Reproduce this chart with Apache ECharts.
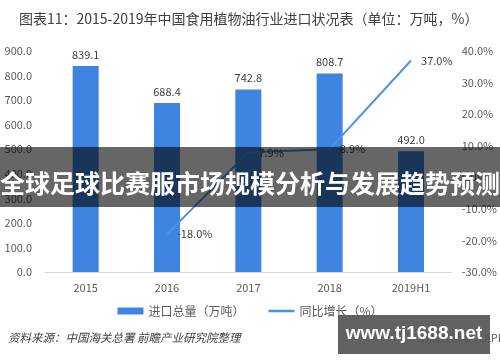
<!DOCTYPE html>
<html><head><meta charset="utf-8">
<script src="https://cdn.jsdelivr.net/npm/echarts@6/dist/echarts.min.js"></script>
<style>html,body{margin:0;padding:0;background:#fff}#c{width:500px;height:362px}</style>
</head><body><div id="c"></div>
<script>
const categories = ['2015','2016','2017','2018','2019H1'];
const importVolume = [839.1, 688.4, 742.8, 808.7, 492.0];
const yoyGrowth = [null, -18.0, 7.9, 8.9, 37.0];
const leftTicks = {min: 0, max: 900, interval: 100};
const rightTicks = {min: -30, max: 40, interval: 10};
const titleText = '图表11：2015-2019年中国食用植物油行业进口状况表（单位：万吨，%）';
const sourceText = '资料来源：中国海关总署 前瞻产业研究院整理';
const bannerText = '全球足球比赛服市场规模分析与发展趋势预测';

const font = '"Noto Sans CJK SC","Noto Sans",sans-serif';
const chart = echarts.init(document.getElementById('c'));
chart.setOption({
  animation: false,
  textStyle: {fontFamily: font},
  title: {text: titleText, left: 14, top: 7, textStyle: {fontSize: 14, fontWeight: 'normal', color: '#404040', fontFamily: font}},
  grid: {left: 45, right: 48, top: 51, bottom: 90},
  legend: {
    bottom: 40, left: 'center', itemGap: 24, itemWidth: 26, itemHeight: 7,
    textStyle: {fontSize: 12, color: '#595959'},
    data: [{name: '进口总量（万吨）', icon: 'rect'}, {name: '同比增长（%）', icon: 'path://M0 0H26V2.5H0Z'}]
  },
  xAxis: {
    type: 'category', data: categories,
    axisLine: {lineStyle: {color: '#d9d9d9'}}, axisTick: {show: false},
    axisLabel: {color: '#595959', fontSize: 11, margin: 10}
  },
  yAxis: [
    {type: 'value', min: leftTicks.min, max: leftTicks.max, interval: leftTicks.interval,
     splitLine: {show: false}, axisLine: {show: false}, axisTick: {show: false},
     axisLabel: {color: '#595959', fontSize: 11, margin: 13, formatter: v => v.toFixed(1)}},
    {type: 'value', min: rightTicks.min, max: rightTicks.max, interval: rightTicks.interval,
     splitLine: {show: false}, axisLine: {show: false}, axisTick: {show: false},
     axisLabel: {color: '#595959', fontSize: 11, margin: 10, formatter: v => v.toFixed(1) + '%'}}
  ],
  series: [
    {name: '进口总量（万吨）', type: 'bar', data: importVolume, barWidth: 26,
     itemStyle: {color: '#3F84E0'},
     label: {show: true, position: 'top', color: '#404040', fontSize: 11, distance: 6, formatter: p => p.value.toFixed(1)}},
    {name: '同比增长（%）', type: 'line', yAxisIndex: 1, data: yoyGrowth,
     showSymbol: true, symbol: 'circle', symbolSize: 0.1,
     lineStyle: {color: '#4A92E6', width: 2}, itemStyle: {color: '#4A92E6'},
     label: {show: true, position: 'right', distance: 10, color: '#404040', fontSize: 11, formatter: p => p.value.toFixed(1) + '%'}}
  ],
  graphic: [
    {type: 'text', left: 8, top: 332, style: {text: sourceText, fill: '#404040', font: 'italic 11.5px ' + font}},
    {type: 'text', left: 418, top: 332, style: {text: '前瞻经济学人APP', fill: '#595959', font: '11px ' + font}},
    {type: 'rect', shape: {x: 0, y: 147, width: 500, height: 60}, style: {fill: 'rgba(0,0,0,0.6)'}, z: 100},
    {type: 'text', x: 250, y: 183, z: 101, style: {text: bannerText, fill: '#fff', font: 'bold 25px ' + font, textAlign: 'center', textVerticalAlign: 'middle'}},
    {type: 'rect', shape: {x: 338, y: 315, width: 152, height: 39}, style: {fill: 'rgba(85,85,85,0.92)'}, z: 100},
    {type: 'text', x: 414, y: 334, z: 101, style: {text: 'www.tj1688.net', fill: '#fff', font: 'bold 19px "Liberation Sans", Arial, sans-serif', textAlign: 'center', textVerticalAlign: 'middle'}}
  ]
});
</script></body></html>
